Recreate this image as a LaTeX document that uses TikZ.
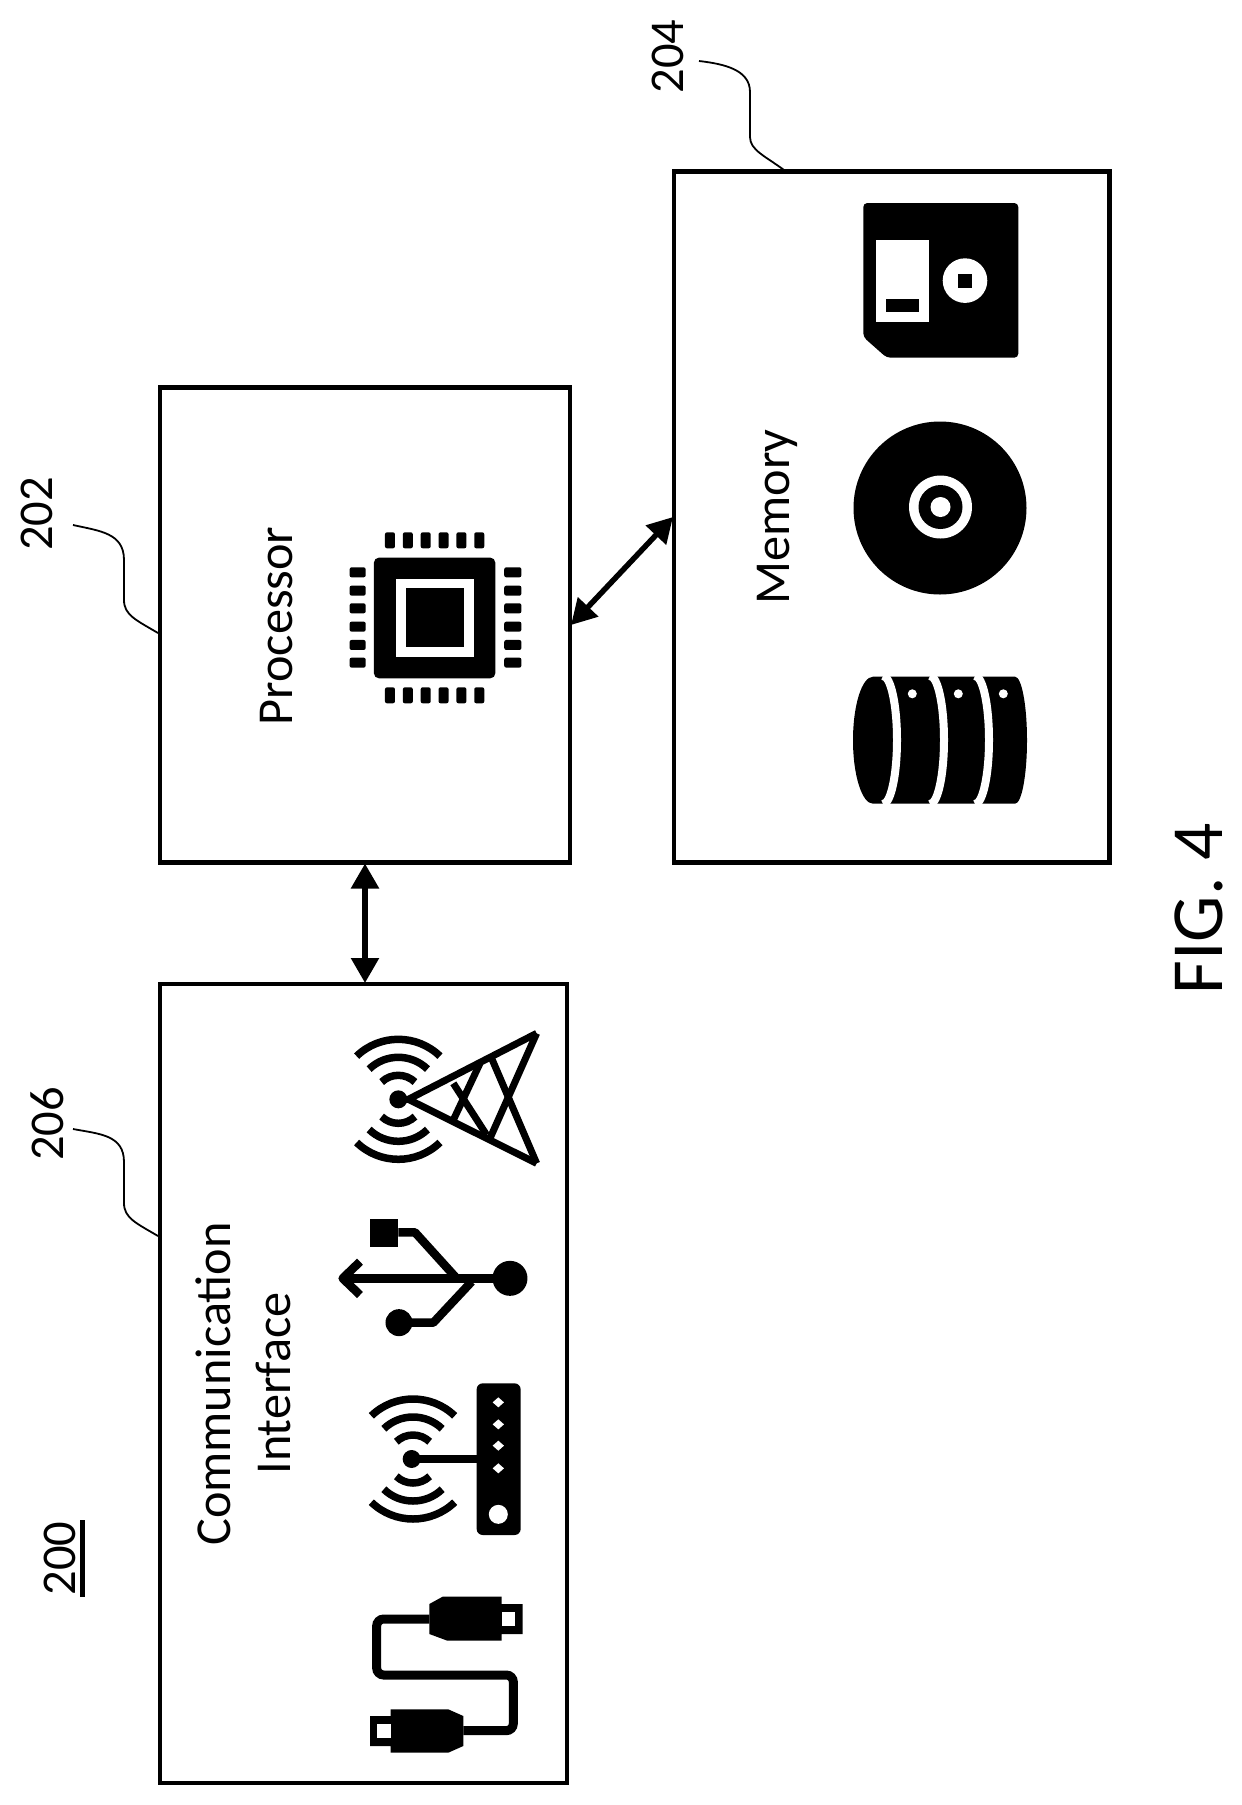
\documentclass[tikz,border=0pt]{standalone}
\usepackage{fontspec}
\setmainfont{Carlito}
\usetikzlibrary{arrows.meta}
\tikzset{
  box/.style={draw=black,line width=4.5pt,fill=white,rectangle,inner sep=0pt,outer sep=1pt},
  body/.style={inner sep=0pt,rotate=90,anchor=base,font=\fontsize{50.3}{52}\selectfont},
  ref/.style={inner sep=0pt,rotate=90,anchor=base,font=\fontsize{48.5}{50}\selectfont},
  lead/.style={draw=black,line width=1.8pt},
  link/.style={draw=black,line width=5.5pt,{Triangle[length=25pt,width=27pt]}-{Triangle[length=25pt,width=27pt]}},
  wifi/.style={draw=black,line width=7.5pt},
  icon/.style={draw=black,line width=8.5pt,line join=round},
  thin icon/.style={draw=black,line width=7pt,line join=round}
}
\newcommand{\wifiarcs}[2]{%
  \foreach \rr in {60,42,24} {
    \draw[wifi] (#1,#2) ++(46:\rr pt) arc[start angle=46,end angle=134,radius=\rr pt];
    \draw[wifi] (#1,#2) ++(-46:\rr pt) arc[start angle=-46,end angle=-134,radius=\rr pt];
  }}
\begin{document}
\begin{tikzpicture}[x=1pt,y=-1pt]
\useasboundingbox (0,0) rectangle (1242,1805);
\fill[white] (0,0) rectangle (1242,1805);

% boxes
\node[box,minimum width=410pt,minimum height=475pt] (proc) at (365,625) {};
\node[box,minimum width=435.5pt,minimum height=691pt] (mem) at (891.75,517) {};
\node[box,minimum width=407pt,minimum height=799pt] (comm) at (363.5,1383.5) {};

% connectors
\draw[link] (proc.east) -- (mem.west);
\draw[link] (proc.south) -- (proc.south |- comm.north);

% box text
\node[body] (tproc) at (292,626) {Processor};
\node[body] (tmem) at (789,517) {Memory};
\node[body] (tcomm) at (230,1384) {Communication};
\node[body] (tif) at (290,1383.5) {Interface};

% reference numerals
\node[ref] (n200) at (75,1558.5) {200};
\draw[draw=black,line width=5pt] (82.5,1520) -- (82.5,1597);
\node[ref] (n202) at (52,514) {202};
\node[ref] (n204) at (683,56.5) {204};
\node[ref] (n206) at (63.5,1124) {206};
\node[inner sep=0pt,rotate=90,anchor=base,font=\fontsize{73.5}{75}\selectfont] (fig) at (1222,909) {FIG. 4};

% leads
\coordinate (s202) at (73,525);
\coordinate (s204) at (699,61);
\coordinate (s206) at (73,1129);
\coordinate (e202) at (158,633);
\coordinate (e204) at (784,170);
\coordinate (e206) at (158,1236);
\draw[lead] (s202) .. controls (100,531) and (124,533) .. (124,560) -- (124,600) .. controls (124,615) and (136,620) .. (e202);
\draw[lead] (s204) .. controls (725,64) and (750,70) .. (750,92) -- (750,137) .. controls (750,150) and (765,156) .. (e204);
\draw[lead] (s206) .. controls (100,1134) and (124,1135) .. (124,1162) -- (124,1203) .. controls (124,1218) and (136,1223) .. (e206);

% processor chip
\begin{scope}[shift={(140,370)},x=.3571pt,y=-.3333pt]
  \fill[black,rounded corners=5pt] (655,563) rectangle (995,925);
  \fill[white] (717,628) rectangle (935,860);
  \fill[black] (745,655) rectangle (908,830);
  \foreach \p in {700,750,800,850,900,950} {
    \fill[black,rounded corners=2pt] (\p-14,487) rectangle (\p+14,535);
    \fill[black,rounded corners=2pt] (\p-14,952) rectangle (\p+14,1000);
  }
  \foreach \p in {607,662,715,770,825,878} {
    \fill[black,rounded corners=2pt] (587,\p-15) rectangle (632,\p+15);
    \fill[black,rounded corners=2pt] (1020,\p-15) rectangle (1068,\p+15);
  }
\end{scope}

% memory: SD card
\fill[black,rounded corners=4pt] (863.3,203) -- (1018.3,203) -- (1018.3,357.7) -- (886.7,357.7) -- (863.3,337) -- cycle;
\fill[white] (876,240) rectangle (929.3,321.7);
\fill[black] (886,299) rectangle (919.3,312.4);
\fill[white] (965,280.6) circle[radius=22.3pt];
\fill[black] (958,273.6) rectangle (972,287.6);

% memory: disc
\fill[black] (940,508) circle[radius=86.5pt];
\fill[white] (940.5,507) circle[radius=31.5pt];
\fill[black] (940.5,507) circle[radius=22pt];
\fill[white] (940.5,507) circle[radius=10pt];

% memory: database
\fill[black] (873,676.7) -- (1015,676.7) arc[start angle=90,end angle=-90,x radius=12pt,y radius=63.5pt] -- (873,803.7) arc[start angle=270,end angle=90,x radius=20pt,y radius=63.5pt] -- cycle;
\foreach \q in {883,930,975} {
  \draw[white,line width=8pt] (\q,676) arc[start angle=90,end angle=-90,x radius=14pt,y radius=64pt];
}
\foreach \q in {912.3,958.3,1003.3} {
  \fill[white] (\q,693.8) circle[radius=4.5pt];
}

% tower
\begin{scope}[shift={(340,1020)},x=.3333pt,y=-.3333pt]
  \draw[thin icon] (590,40) -- (205,238) -- (590,430);
  \draw[thin icon] (590,40) -- (450,355);
  \draw[thin icon] (455,115) -- (590,430);
  \draw[thin icon] (340,190) -- (440,345);
  \draw[thin icon] (420,130) -- (340,300);
  \draw[thin icon] (175,238) -- (215,238);
  \fill[black] (175,238) circle[radius=9pt];
\end{scope}
\wifiarcs{398.3}{1099.3}

% usb symbol
\begin{scope}[shift={(330,1200)},x=.3333pt,y=-.3333pt]
  \draw[icon] (40,235) -- (540,235);
  \draw[icon] (90,185) -- (38,235) -- (90,285);
  \fill[black] (540,235) circle[radius=17.5pt];
  \fill[black] (120,58) rectangle (205,140);
  \draw[icon] (205,97) -- (255,97) -- (380,235);
  \fill[black] (207,368) circle[radius=13.5pt];
  \draw[icon] (207,368) -- (310,368) -- (425,245);
\end{scope}

% router
\begin{scope}[shift={(360,1380)},x=.3333pt,y=-.3333pt]
  \fill[black,rounded corners=6pt] (350,10) rectangle (482,465);
  \foreach \p in {67,133,197,265} {
    \fill[white] (415,\p-15) -- (432,\p) -- (415,\p+15) -- (398,\p) -- cycle;
  }
  \fill[white] (415,403) circle[radius=9.5pt];
  \draw[icon] (155,237) -- (350,237);
  \fill[black] (155,237) circle[radius=9pt];
\end{scope}
\wifiarcs{413}{1459}

% usb cable
\begin{scope}[shift={(360,1580)},x=.3333pt,y=-.3333pt]
  \draw[black,line width=9pt,rounded corners=7pt] (208,117) -- (50,117) -- (50,285) -- (460,285) -- (460,452) -- (310,452);
  \fill[black] (208,72) -- (248,50) -- (425,50) -- (425,72) -- (488,72) -- (488,162) -- (425,162) -- (425,182) -- (262,182) -- (208,162) -- cycle;
  \fill[white] (425,95) rectangle (465,138);
  \fill[black] (310,408) -- (265,388) -- (92,388) -- (92,408) -- (30,408) -- (30,498) -- (92,498) -- (92,518) -- (265,518) -- (310,498) -- cycle;
  \fill[white] (52,432) rectangle (92,475);
\end{scope}
\end{tikzpicture}
\end{document}
